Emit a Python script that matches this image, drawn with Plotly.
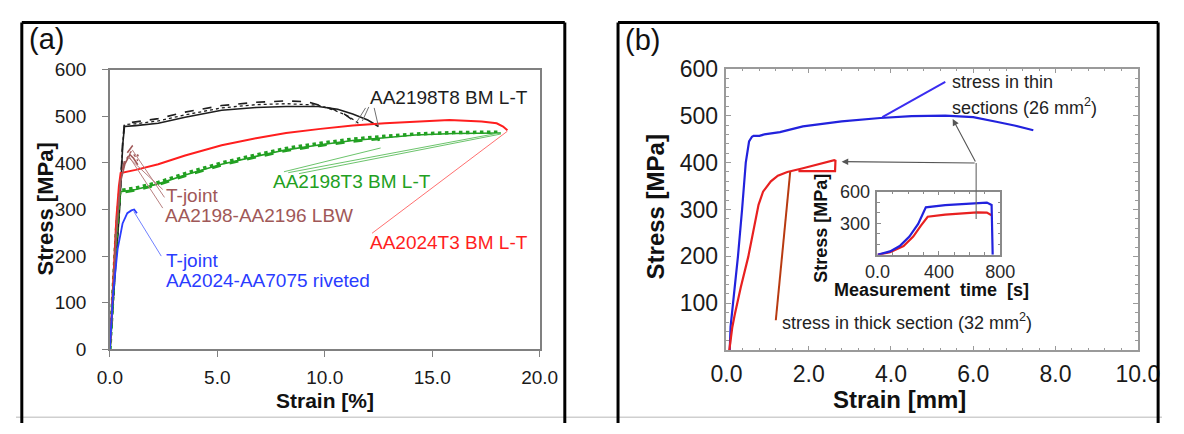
import plotly.graph_objects as go

# ---------------- Panel (a) data: strain [%] vs stress [MPa] ----------------
t8_solid_x = [0, 0.45, 0.6, 0.68, 1.2, 2.25, 3.5, 5.2, 6.8, 8.2, 9.7, 10.6, 11.3, 12.0, 12.5]
t8_solid_y = [0, 300, 440, 478, 480, 485, 498, 513, 519, 521, 521, 515, 505, 492, 478]
t8_dash_x = [0, 0.45, 0.6, 0.68, 1.2, 2.25, 3.5, 5.2, 6.8, 8.2, 9.2, 9.7, 10.4, 10.9, 11.5]
t8_dash_y = [0, 310, 450, 485, 488, 495, 509, 523, 530, 533, 531, 525, 515, 505, 485]
t8_dot_x = [0, 0.45, 0.6, 0.68, 1.2, 2.25, 3.5, 5.2, 6.8, 8.2, 9.7, 10.5, 11.1, 11.6]
t8_dot_y = [0, 305, 445, 482, 484, 490, 503, 518, 525, 527, 524, 512, 500, 484]

t3_2024_x = [0, 0.15, 0.3, 0.42, 0.5, 1.2, 2.25, 3.5, 5.2, 6.8, 8.2, 9.8, 11.3, 12.8, 14.2, 15.8, 17.3, 18.0, 18.3, 18.5]
t3_2024_y = [0, 150, 280, 350, 378, 385, 397, 416, 438, 453, 464, 473, 480, 485, 489, 492, 489, 485, 478, 470]

t3_2198a_x = [0, 0.3, 0.45, 0.5, 1.2, 2.25, 3.5, 5.2, 6.8, 8.2, 9.8, 11.3, 12.8, 14.2, 16.0, 18.2]
t3_2198a_y = [0, 250, 330, 338, 343, 355, 374, 397, 414, 428, 439, 448, 454, 460, 463, 464]
t3_2198b_x = [0, 0.3, 0.45, 0.5, 1.2, 2.25, 3.5, 5.2, 6.8, 8.2, 9.8, 11.3, 12.8, 14.2, 16.0, 18.1]
t3_2198b_y = [0, 252, 333, 341, 346, 358, 377, 400, 417, 431, 442, 451, 457, 462, 465, 466]
t3_2198c_x = [0, 0.3, 0.45, 0.5, 1.2, 2.25, 3.5, 5.2, 6.8, 8.2, 9.8, 11.3, 12.5, 12.6]
t3_2198c_y = [0, 248, 328, 336, 341, 353, 372, 395, 412, 426, 437, 446, 451, 436]

lbw_solid_x = [0, 0.3, 0.5, 0.7, 0.93, 1.1, 1.3]
lbw_solid_y = [0, 250, 360, 398, 418, 410, 396]
lbw_dash_x = [0, 0.3, 0.5, 0.75, 1.04, 1.2, 1.32]
lbw_dash_y = [0, 260, 370, 418, 436, 426, 414]
lbw_dot_x = [0, 0.3, 0.5, 0.72, 0.98, 1.15, 1.3]
lbw_dot_y = [0, 255, 365, 405, 424, 416, 404]

riv_x = [0, 0.14, 0.36, 0.59, 0.81, 1.0, 1.13, 1.26]
riv_y = [0, 114, 215, 270, 292, 298, 300, 292]

# leader lines panel (a)
lead_t8_x = [[11.9, 11.45], [12.05, 11.75], [12.3, 12.5]]
lead_t8_y = [[518, 485], [520, 490], [518, 478]]
lead_2024_x = [12.2, 18.5]
lead_2024_y = [249, 468]
lead_2198_x = [[8.1, 12.6], [8.3, 18.1], [8.8, 18.2]]
lead_2198_y = [[381, 432], [379, 464], [377, 462]]
lead_lbw_x = [[2.46, 0.81], [2.54, 1.04], [2.46, 0.89]]
lead_lbw_y = [[343, 414], [326, 428], [303, 414]]
lead_riv_x = [1.11, 2.39]
lead_riv_y = [296, 200]

# ---------------- Panel (b) data: strain [mm] vs stress [MPa] ----------------
thin_x = [0.08, 0.1, 0.16, 0.28, 0.38, 0.47, 0.55, 0.62, 0.66, 0.8, 0.92, 1.1, 1.3, 1.86, 2.8, 3.74, 4.5, 5.32, 6.0, 6.56, 7.0, 7.46]
thin_y = [0, 50, 100, 200, 300, 400, 445, 455, 457, 457, 460, 462, 465, 477, 488, 495, 499, 500, 497, 487, 479, 469]
thick_x = [0.07, 0.14, 0.2, 0.35, 0.53, 0.65, 0.78, 0.89, 1.08, 1.25, 1.48, 1.86, 2.3, 2.62, 2.65, 2.64, 1.75]
thick_y = [0, 48, 75, 135, 199, 250, 310, 338, 360, 372, 380, 388, 398, 405, 404, 382, 382]

# inset: measurement time [s] vs stress [MPa]
in_blue_t = [0, 82, 145, 208, 265, 315, 441, 649, 712, 743, 750]
in_blue_s = [0, 33, 83, 173, 293, 450, 472, 493, 495, 472, 0]
in_red_t = [0, 82, 170, 233, 283, 327, 441, 649, 712, 743]
in_red_s = [0, 24, 84, 173, 277, 361, 382, 403, 400, 376]

# pointers panel (b)
ptr_thin_x = [3.79, 5.32]
ptr_thin_y = [497, 572]
ptr_thick_x = [1.55, 1.2]
ptr_thick_y = [380, 64]
arrow_apex = (6.07, 399)
arrow_targets_x = [5.5, 2.8]
arrow_targets_y = [493, 402]
vline_x = [6.07, 6.07]
vline_y = [399, 280]

# ---------------- figure ----------------
W, H = 1184, 434
FONT = "Liberation Sans, Arial, sans-serif"


def dom_x(p0, p1):
    return [p0 / W, p1 / W]


def dom_y(top, bottom):
    return [1 - bottom / H, 1 - top / H]


fig = go.Figure()

BLACK = "#1e1e1e"
RED = "#ff1e1e"
GREEN = "#22a022"
BROWN = "#a05858"
BLUE = "#2a3cff"


def add(x, y, color, width=1.6, dash="solid", xa="x", ya="y", opacity=1.0):
    fig.add_trace(go.Scatter(x=x, y=y, mode="lines", xaxis=xa, yaxis=ya,
                             line=dict(color=color, width=width, dash=dash),
                             opacity=opacity, showlegend=False, hoverinfo="skip"))


# panel (a) curves
add(t8_solid_x, t8_solid_y, BLACK, 1.6)
add(t8_dash_x, t8_dash_y, BLACK, 1.6, "dash")
add(t8_dot_x, t8_dot_y, BLACK, 1.3, "dot")
add(t3_2198a_x, t3_2198a_y, GREEN, 1.6)
add(t3_2198b_x, t3_2198b_y, GREEN, 3.5, "dot")
add(t3_2198c_x, t3_2198c_y, GREEN, 2.5, "dash")
add(t3_2024_x, t3_2024_y, RED, 2.0)
add(lbw_solid_x, lbw_solid_y, BROWN, 1.6)
add(lbw_dash_x, lbw_dash_y, BROWN, 1.6, "dash")
add(lbw_dot_x, lbw_dot_y, BROWN, 1.3, "dot")
add(riv_x, riv_y, BLUE, 1.8)

# panel (a) leaders
for lx, ly in zip(lead_t8_x, lead_t8_y):
    add(lx, ly, "#707070", 1.0)
add(lead_2024_x, lead_2024_y, "#ff7070", 1.0)
for lx, ly in zip(lead_2198_x, lead_2198_y):
    add(lx, ly, "#6cc46c", 1.0)
for lx, ly in zip(lead_lbw_x, lead_lbw_y):
    add(lx, ly, "#b88080", 1.0)
add(lead_riv_x, lead_riv_y, "#7080ff", 1.0)

# panel (b) curves
BBLUE = "#2222dd"
BRED = "#e82020"
add(thin_x, thin_y, BBLUE, 2.2, xa="x2", ya="y2")
add(thick_x, thick_y, BRED, 2.2, xa="x2", ya="y2")
add(ptr_thin_x, ptr_thin_y, "#3a2cf0", 2.0, xa="x2", ya="y2")
add(ptr_thick_x, ptr_thick_y, "#b83a10", 2.0, xa="x2", ya="y2")

# inset curves
add(in_red_t, in_red_s, BRED, 2.2, xa="x3", ya="y3")
add(in_blue_t, in_blue_s, BBLUE, 2.2, xa="x3", ya="y3")

# axes
axa_common = dict(showline=True, linecolor="#808080", linewidth=1.5, mirror=True,
                  ticks="outside", ticklen=6, tickcolor="#808080", tickwidth=1.3,
                  showgrid=False, zeroline=False,
                  tickfont=dict(family=FONT, size=19, color="#1a1a1a"))
fig.update_layout(
    xaxis=dict(domain=dom_x(97, 541), range=[0, 20], tickvals=[0, 5, 10, 15, 20],
               tickformat=".1f", anchor="y", ticklabelstandoff=4, **axa_common),
    yaxis=dict(domain=dom_y(60, 356), range=[0, 600], tickvals=[0, 100, 200, 300, 400, 500, 600],
               anchor="x", ticklabelstandoff=12, **axa_common),
)

axb_common = dict(showline=True, linecolor="#9a9a9a", linewidth=1.5, mirror="ticks",
                  ticks="inside", ticklen=5, tickcolor="#9a9a9a", tickwidth=1.2,
                  showgrid=False, zeroline=False,
                  tickfont=dict(family=FONT, size=23, color="#1a1a1a"))
fig.update_layout(
    xaxis2=dict(domain=dom_x(734, 1159), range=[0, 10], tickvals=[0, 2, 4, 6, 8, 10],
                tickformat=".1f", anchor="y2", ticklabelstandoff=2,
                minor=dict(ticks="inside", dtick=0.4, ticklen=3, tickcolor="#9a9a9a"),
                **axb_common),
    yaxis2=dict(domain=dom_y(59, 357), range=[0, 600], tickvals=[100, 200, 300, 400, 500, 600],
                anchor="x2", ticklabelstandoff=2,
                minor=dict(ticks="inside", dtick=20, ticklen=3, tickcolor="#9a9a9a"),
                **axb_common),
)

axc_common = dict(showline=True, linecolor="#8a8a8a", linewidth=1.5, mirror="ticks",
                  ticks="inside", ticklen=4, tickcolor="#8a8a8a", tickwidth=1.2,
                  showgrid=False, zeroline=False,
                  tickfont=dict(family=FONT, size=18, color="#2a2a2a"))
fig.update_layout(
    xaxis3=dict(domain=dom_x(890, 1017), range=[0, 800], tickvals=[0, 400, 800],
                ticktext=["0.0", "400", "800"], anchor="y3", ticklabelstandoff=0,
                minor=dict(ticks="inside", dtick=100, ticklen=3, tickcolor="#8a8a8a"),
                **axc_common),
    yaxis3=dict(domain=dom_y(189, 256), range=[0, 600], tickvals=[300, 600],
                anchor="x3", ticklabelstandoff=2,
                minor=dict(ticks="inside", dtick=100, ticklen=3, tickcolor="#8a8a8a"),
                **axc_common),
)

ann = []


def txt(x, y, s, color, size, xref="x", yref="y", xanchor="left", bold=False, angle=0):
    ann.append(dict(x=x, y=y, xref=xref, yref=yref, text=(f"<b>{s}</b>" if bold else s),
                    showarrow=False, xanchor=xanchor, yanchor="middle", textangle=angle,
                    font=dict(family=FONT, size=size, color=color)))


# panel (a) texts
txt(12.0, 541, "AA2198T8 BM L-T", BLACK, 19)
txt(7.5, 361, "AA2198T3 BM L-T", GREEN, 19)
txt(2.5, 330, "T-joint", BROWN, 19)
txt(2.45, 288, "AA2198-AA2196 LBW", BROWN, 19)
txt(12.0, 229, "AA2024T3 BM L-T", RED, 19)
txt(2.5, 191, "T-joint", BLUE, 19)
txt(2.5, 148, "AA2024-AA7075 riveted", BLUE, 19)

# panel (b) texts
txt(5.43, 571, "stress in thin", "#222222", 18, "x2", "y2")
txt(5.43, 519, "sections (26 mm<sup>2</sup>)", "#222222", 18, "x2", "y2")
txt(1.3, 62, "stress in thick section (32 mm<sup>2</sup>)", "#222222", 18, "x2", "y2")

# axis titles and panel labels (paper coords)
def ptxt(px, py, s, size, bold=True, angle=0, xanchor="center"):
    ann.append(dict(x=px / W, y=1 - py / H, xref="paper", yref="paper",
                    text=(f"<b>{s}</b>" if bold else s), showarrow=False,
                    xanchor=xanchor, yanchor="middle", textangle=angle,
                    font=dict(family=FONT, size=size, color="#111111")))


ptxt(319, 410, "Strain [%]", 21)
ptxt(30, 208, "Stress [MPa]", 22, angle=-90)
ptxt(913, 409, "Strain [mm]", 24)
ptxt(661, 205, "Stress [MPa]", 24, angle=-90)
ptxt(946, 293, "Measurement  time  [s]", 18)
ptxt(832, 228, "Stress [MPa]", 18, angle=-90)
ptxt(11, 28, "(a)", 29, bold=False, xanchor="left")
ptxt(627, 29, "(b)", 29, bold=False, xanchor="left")

# arrows in panel (b)
for tx, ty in zip(arrow_targets_x, arrow_targets_y):
    ann.append(dict(x=tx, y=ty, xref="x2", yref="y2", ax=arrow_apex[0], ay=arrow_apex[1],
                    axref="x2", ayref="y2", showarrow=True, arrowhead=2, arrowsize=1.2,
                    arrowwidth=1.1, arrowcolor="#555555", text=""))

fig.update_layout(annotations=ann)


def pline(x0, y0, x1, y1, color="#000000", width=3):
    return dict(type="line", xref="paper", yref="paper", x0=x0 / W, x1=x1 / W,
                y0=1 - y0 / H, y1=1 - y1 / H, line=dict(color=color, width=width))


shapes = [
    dict(type="line", xref="x2", yref="y2", x0=vline_x[0], x1=vline_x[1], y0=vline_y[0], y1=vline_y[1],
         line=dict(color="#666666", width=1.1), layer="above"),
    pline(0, 428, W, 428, "#cfcfcf", 1.5),
    pline(6, 10, 6, H), pline(6, 10, 567, 10), pline(567, 10, 567, H),
    pline(622, 10, 622, H), pline(622, 10, 1180, 10), pline(1180, 10, 1180, H),
]
fig.update_layout(shapes=shapes)

fig.update_layout(width=W, height=H, margin=dict(l=0, r=0, t=0, b=0),
                  paper_bgcolor="white", plot_bgcolor="white", showlegend=False)

fig.write_html("out.html", config={"displayModeBar": False})
